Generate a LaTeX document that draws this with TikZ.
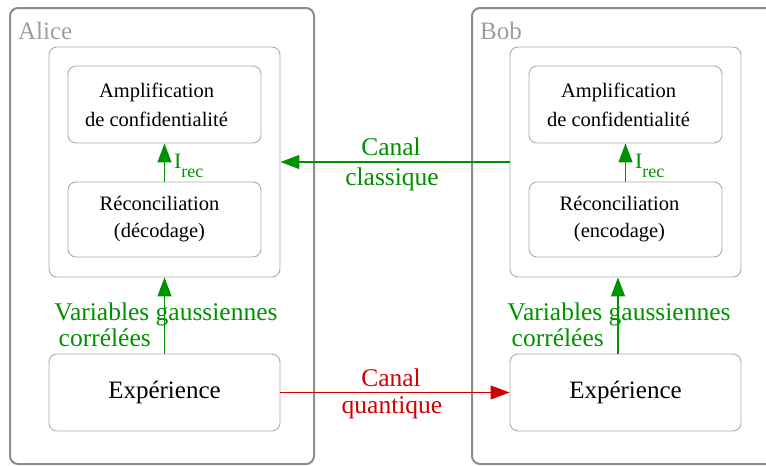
\documentclass[tikz,border=0pt]{standalone}
\usepackage{fontspec}
\setmainfont{Liberation Serif}
\usetikzlibrary{arrows.meta}
\definecolor{canalgreen}{RGB}{0,145,0}
\definecolor{canalred}{RGB}{210,0,0}
\definecolor{partygray}{RGB}{140,140,140}
\definecolor{boxgray}{RGB}{170,170,170}

\begin{document}
\begin{tikzpicture}[x=1pt, y=-1pt,
  party/.style={draw=partygray, line width=2pt, rounded corners=8pt},
  partyname/.style={anchor=west, text=partygray!85, font=\fontsize{25}{25}\selectfont, inner sep=0pt},
  grp/.style={draw=boxgray, line width=0.9pt, rounded corners=8pt, minimum width=231pt, minimum height=230pt},
  stepbox/.style={draw=boxgray, line width=0.9pt, rounded corners=8pt, minimum width=193pt, align=center, font=\fontsize{20.5}{29}\selectfont},
  expbox/.style={draw=boxgray, line width=0.9pt, rounded corners=8pt, minimum width=231pt, minimum height=77pt, font=\fontsize{25}{25}\selectfont},
  flow/.style={line width=1.3pt, -{Triangle[length=19pt, width=14pt]}},
  biglabel/.style={font=\fontsize{25.5}{26}\selectfont},
  irec/.style={right, text=canalgreen, inner sep=9pt, yshift=-3pt, font=\fontsize{22}{22}\selectfont}]
  \useasboundingbox (0,0) rectangle (766,466);
  \clip (0,0) rectangle (766,466);

  % Alice
  \node[party, minimum width=304pt, minimum height=456pt] (alice) at (162,236) {};
  \node[partyname] (alicename) at (18,31) {Alice};
  \node[grp] (agrp) at (164.5,162) {};
  \node[stepbox, minimum height=77pt] (aamp) at (164.5,104.5) {Amplification\kern16pt\\de confidentialité\kern16pt};
  \node[stepbox, minimum height=75pt, font=\fontsize{20.5}{27}\selectfont] (arec) at (164.5,219.5) {Réconciliation\kern10pt\\(décodage)\kern10pt};
  \node[expbox] (aexp) at (164.5,392.5) {Expérience};

  % Bob
  \node[party, minimum width=328pt, minimum height=456pt] (bob) at (636,236) {};
  \node[partyname] (bobname) at (480,31) {Bob};
  \node[grp] (bgrp) at (625.5,162) {};
  \node[stepbox, minimum height=77pt] (bamp) at (625.5,104.5) {Amplification\kern14pt\\de confidentialité\kern14pt};
  \node[stepbox, minimum height=75pt, font=\fontsize{20.5}{27}\selectfont] (brec) at (625.5,219.5) {Réconciliation\kern12pt\\(encodage)\kern12pt};
  \node[expbox] (bexp) at (625.5,392.5) {Expérience};

  % flows inside each side
  \draw[flow, canalgreen] (arec) -- node[irec] {I\raisebox{-9pt}{\fontsize{18}{18}\selectfont rec}} (aamp);
  \draw[flow, canalgreen] (brec) -- node[irec] {I\raisebox{-9pt}{\fontsize{18}{18}\selectfont rec}} (bamp);
  \draw[flow, canalgreen] (aexp) -- (agrp);
  \draw[flow, canalgreen] ([xshift=-7.5pt]bexp.north) -- ([xshift=-7.5pt]bgrp.south);
  \node[biglabel, text=canalgreen, align=left] (avar) at (166,325) {Variables gaussiennes\\\,corrélées};
  \node[biglabel, text=canalgreen, align=left] (bvar) at (619,325) {Variables gaussiennes\\\,corrélées};

  % channels
  \draw[flow, canalgreen] (bgrp.west) -- node[biglabel, above, inner sep=6pt, xshift=-4pt] {Canal}
    node[biglabel, below, inner sep=5pt, xshift=-3pt] {classique} (agrp.east);
  \draw[flow, canalred, line width=1pt] (aexp.east) -- node[biglabel, above, inner sep=5pt, xshift=-4pt] {Canal}
    node[biglabel, below, inner sep=4pt, xshift=-3pt] {quantique} (bexp.west);
\end{tikzpicture}
\end{document}
